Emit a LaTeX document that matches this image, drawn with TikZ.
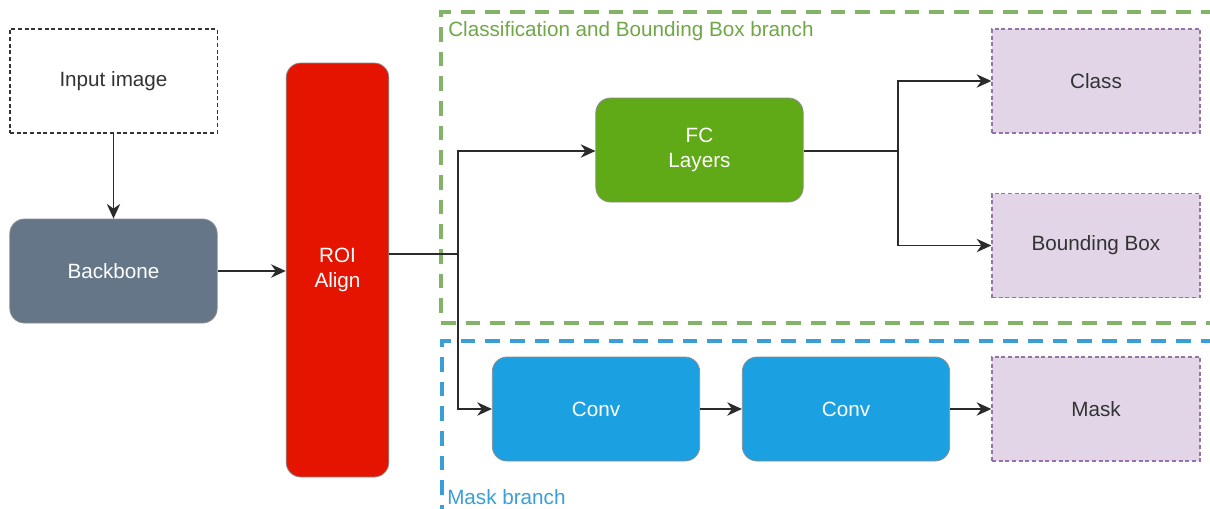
\documentclass[tikz,border=0pt]{standalone}
\usepackage{fontspec}
\setmainfont{Liberation Sans}
\usetikzlibrary{arrows.meta,positioning}

\definecolor{slate}{HTML}{647687}
\definecolor{roired}{HTML}{E51400}
\definecolor{fcgreen}{HTML}{60A917}
\definecolor{convblue}{HTML}{1BA1E2}
\definecolor{outfill}{HTML}{E1D5E7}
\definecolor{outline}{HTML}{9673A6}
\definecolor{framegreen}{HTML}{82B366}
\definecolor{framegreentext}{HTML}{6FA646}
\definecolor{frameblue}{HTML}{3A9FD6}
\definecolor{wire}{HTML}{2B2B2B}
\definecolor{textdark}{HTML}{333333}

\tikzset{
  x=0.75pt, y=-0.75pt,
  boxfont/.style={font=\fontsize{15.5}{18.5}\selectfont, align=center},
  block/.style={boxfont, inner sep=0pt, minimum width=155.5pt, minimum height=78pt,
                rounded corners=11pt, draw=black!45, line width=0.6pt, text=white},
  outbox/.style={boxfont, inner sep=0pt, minimum width=156pt, minimum height=78pt,
                 fill=outfill, draw=outline, line width=1pt, dash pattern=on 3pt off 2pt, text=textdark},
  inbox/.style={boxfont, inner sep=0pt, minimum width=155.5pt, minimum height=78pt,
                draw=black!80, line width=1pt, dash pattern=on 3pt off 2pt, text=textdark},
  wirestyle/.style={draw=wire, line width=1.3pt},
  arr/.style={wirestyle, -{Stealth[length=11pt, width=10pt, inset=3.5pt]}},
  frame/.style={line width=3.6pt, dash pattern=on 11pt off 7.5pt},
  framelabel/.style={font=\fontsize{15.5}{18.5}\selectfont, anchor=west, inner sep=0pt}
}

\begin{document}
\begin{tikzpicture}
\useasboundingbox (0,0) rectangle (1210,508);
\clip (0,0) rectangle (1210,508);

% branch frames
\draw[frame, draw=framegreen] (1240,12) -- (441,12) -- (441,323) -- (1240,323);
\draw[frame, draw=frameblue] (1240,341) -- (442,341) -- (442,540);
\node[framelabel, text=framegreentext] (clslabel) at (448,31) {Classification and Bounding Box branch};
\node[framelabel, text=frameblue] (masklabel) at (447,497) {Mask branch};

% nodes
\node[inbox] (input) at (113.5,81) {Input image};
\node[block, fill=slate] (backbone) at (113.5,271) {Backbone};
\node[block, fill=roired, minimum width=77pt, minimum height=310.5pt] (roi) at (337.5,270) {ROI\\Align};
\node[block, fill=fcgreen] (fc) at (699.5,150) {FC\\Layers};
\node[outbox] (class) at (1096,81) {Class};
\node[outbox] (bbox) at (1096,245.5) {Bounding Box};
\node[block, fill=convblue] (conv1) at (596,409) {Conv};
\node[block, fill=convblue] (conv2) at (846,409) {Conv};
\node[outbox] (mask) at (1096,409) {Mask};

% junction points
\coordinate (split) at (458,254);
\coordinate (fcsplit) at (898,151);

% connectors
\draw[arr] (input) -- (backbone);
\draw[arr] (backbone.east) -- (roi.west |- backbone.east);
\draw[wirestyle] (roi.east |- split) -- (split);
\draw[arr] (split) |- (fc.west |- fcsplit);
\draw[arr] (split) |- (conv1.west);
\draw[wirestyle] (fc.east |- fcsplit) -- (fcsplit);
\draw[arr] (fcsplit) |- (class.west);
\draw[arr] (fcsplit) |- (bbox.west);
\draw[arr] (conv1) -- (conv2);
\draw[arr] (conv2) -- (mask);
\end{tikzpicture}
\end{document}
